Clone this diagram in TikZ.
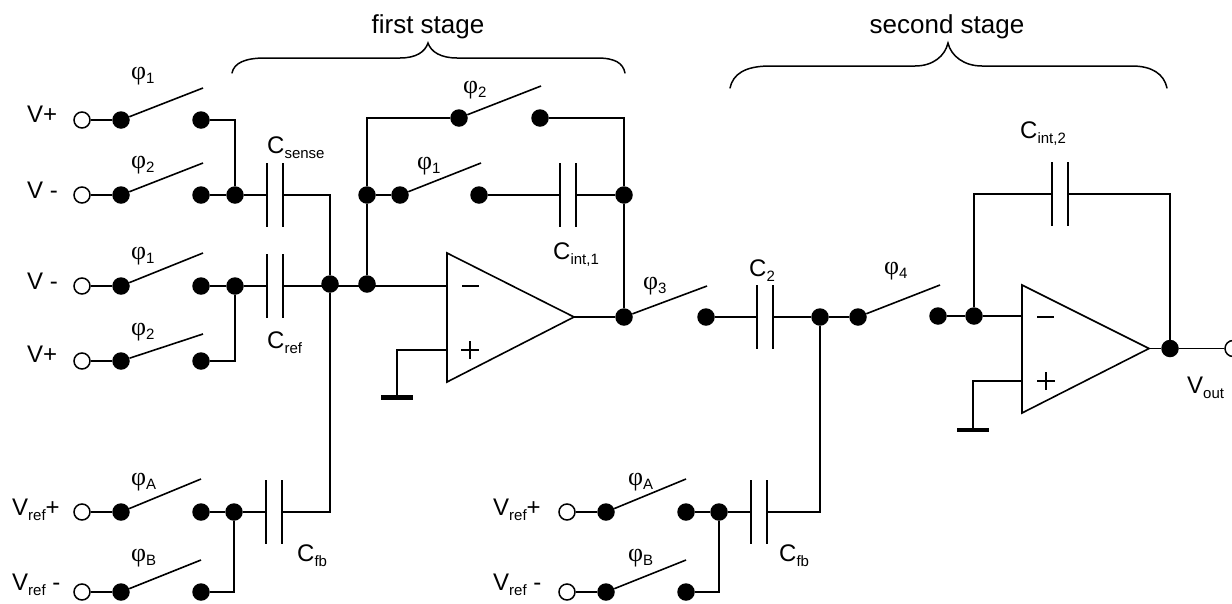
\documentclass[tikz,border=0pt]{standalone}
\usepackage{fontspec}
\setmainfont{Liberation Sans}
\newfontfamily\phifont{Liberation Serif}
\newcommand{\bigf}{\fontsize{24}{26}\selectfont}
\newcommand{\subt}[1]{\raisebox{-5pt}{\fontsize{15}{16}\selectfont #1}}
\newcommand{\phs}[1]{{\phifont\fontsize{26}{28}\selectfont φ}\raisebox{-4pt}{\fontsize{15}{16}\selectfont #1}}
\tikzset{
  wire/.style={line width=1.6pt,line join=miter},
  dotn/.style={circle,fill=black,minimum size=17.5pt,inner sep=0pt},
  opn/.style={circle,draw=black,fill=white,line width=1.5pt,minimum size=16pt,inner sep=0pt},
  plate/.style={rectangle,fill=black,minimum width=1.7pt,minimum height=64pt,inner sep=0pt},
  gnd/.style={rectangle,fill=black,minimum width=32pt,minimum height=4.5pt,inner sep=0pt},
  lab/.style={anchor=base west,inner sep=0pt,font=\bigf},
  stagelab/.style={anchor=base,inner sep=0pt,font=\fontsize{26}{28}\selectfont},
  brace/.style={line width=1.5pt,line cap=round},
}
\begin{document}
\begin{tikzpicture}[x=1pt,y=-1pt]
\useasboundingbox (0,0) rectangle (1232,603);
% ---------- left switches
\node[opn] (o1) at (82,120) {};  \node[dotn] (a1) at (121,120) {}; \node[dotn] (b1) at (201,120) {}; \coordinate (e1) at (203,88);
\node[opn] (o2) at (82,195) {};  \node[dotn] (a2) at (121,195) {}; \node[dotn] (b2) at (201,195) {}; \coordinate (e2) at (203,163);
\node[opn] (o3) at (82,286) {};  \node[dotn] (a3) at (121,286) {}; \node[dotn] (b3) at (201,286) {}; \coordinate (e3) at (203,253);
\node[opn] (o4) at (82,361) {};  \node[dotn] (a4) at (121,361) {}; \node[dotn] (b4) at (201,361) {}; \coordinate (e4) at (203,334);
\node[opn] (o5) at (82,512) {};  \node[dotn] (a5) at (121,512) {}; \node[dotn] (b5) at (201,512) {}; \coordinate (e5) at (201,479);
\node[opn] (o6) at (82,592) {};  \node[dotn] (a6) at (121,592) {}; \node[dotn] (b6) at (201,592) {}; \coordinate (e6) at (201,560);
\foreach \i in {1,...,6}{\draw[wire] (o\i)--(a\i); \draw[wire] (a\i)--(e\i);}
% junctions and capacitors, first stage
\node[dotn] (j2) at (235,195) {}; \node[dotn] (j3) at (235,286) {}; \node[dotn] (j5) at (234,512) {};
\node[plate] (cs1) at (267,195) {}; \node[plate] (cs2) at (283,195) {};
\node[plate] (cr1) at (267,286) {}; \node[plate] (cr2) at (283,286) {};
\node[plate] (cf1) at (266,512) {}; \node[plate] (cf2) at (282,512) {};
\node[dotn] (m1) at (330,284) {}; \node[dotn] (m2) at (367,284) {};
\draw[wire] (b1) -| (j2);
\draw[wire] (b2)--(j2)--(cs1);
\draw[wire] (b3)--(j3)--(cr1);
\draw[wire] (b4) -| (j3);
\draw[wire] (b5)--(j5)--(cf1);
\draw[wire] (b6) -| (j5);
\draw[wire] (cs2) -| (m1);
\draw[wire] (m1) |- (cf2);
% integrator 1
\node[dotn] (f1) at (367,195) {}; \node[dotn] (s1a) at (400,195) {}; \node[dotn] (s1b) at (479,195) {}; \coordinate (s1e) at (481,163);
\node[dotn] (s2a) at (459,118) {}; \node[dotn] (s2b) at (540,118) {}; \coordinate (s2e) at (541,86);
\node[plate] (ci1) at (560,195) {}; \node[plate] (ci2) at (576,195) {};
\node[dotn] (f2) at (624,195) {}; \node[dotn] (out1) at (624,317) {};
\coordinate (op1m) at (447,286); \coordinate (op1p) at (447,350); \coordinate (op1t) at (574,317);
\draw[wire] (447,253)--(op1t)--(447,382)--cycle;
\draw[wire] (cr2)--(op1m);
\draw[wire] (m2)--(f1);
\draw[wire] (f1) |- (s2a);
\draw[wire] (s2b) -| (f2);
\draw[wire] (f1)--(s1a);
\draw[wire] (s1a)--(s1e);
\draw[wire] (s2a)--(s2e);
\draw[wire] (s1b)--(ci1);
\draw[wire] (ci2)--(f2);
\draw[wire] (f2)--(out1);
\draw[wire] (op1t)--(out1);
\node[gnd] (g1) at (397,397.5) {};
\draw[wire] (op1p) -| (g1);
\draw[wire] (462,286)--(479,286);
\draw[wire] (461,350)--(479,350);
\draw[wire] (470,341)--(470,359);
% link to second stage
\coordinate (s3e) at (707,286);
\node[dotn] (s3b) at (706,317) {}; \node[plate] (c21) at (757,317) {}; \node[plate] (c22) at (773,317) {};
\node[dotn] (n1) at (820,317) {}; \node[dotn] (s4a) at (858,317) {}; \coordinate (s4e) at (940,285);
\node[dotn] (s4b) at (938,316) {}; \node[dotn] (n2) at (974,316) {};
\draw[wire] (out1)--(s3e);
\draw[wire] (s3b)--(c21);
\draw[wire] (c22)--(n1)--(s4a);
\draw[wire] (s4a)--(s4e);
\draw[wire] (s4b)--(n2);
% integrator 2
\coordinate (op2m) at (1022,316); \coordinate (op2p) at (1022,381); \coordinate (op2t) at (1149,348.5);
\draw[wire] (1022,285)--(op2t)--(1022,413)--cycle;
\draw[wire] (n2)--(op2m);
\node[gnd] (g2) at (973,430) {};
\draw[wire] (op2p) -| (g2);
\draw[wire] (1037,317)--(1054,317);
\draw[wire] (1037,381)--(1055,381);
\draw[wire] (1046,372)--(1046,390);
\node[plate] (cj1) at (1052,194) {}; \node[plate] (cj2) at (1068,194) {};
\node[dotn] (out2) at (1170,348.5) {};
\node[opn] (oo) at (1233,348.5) {};
\draw[wire] (n2) |- (cj1);
\draw[wire] (cj2) -| (out2);
\draw[wire] (op2t)--(out2);
\draw[wire] (out2)--(oo);
% lower switches second stage
\node[opn] (p5) at (567,512) {}; \node[dotn] (q5) at (606,512) {}; \node[dotn] (r5) at (686,512) {}; \coordinate (t5) at (686,479);
\node[opn] (p6) at (567,592) {}; \node[dotn] (q6) at (606,592) {}; \node[dotn] (r6) at (686,592) {}; \coordinate (t6) at (686,560);
\node[dotn] (k5) at (719,512) {};
\node[plate] (cg1) at (751,512) {}; \node[plate] (cg2) at (767,512) {};
\draw[wire] (p5)--(q5); \draw[wire] (q5)--(t5);
\draw[wire] (p6)--(q6); \draw[wire] (q6)--(t6);
\draw[wire] (r5)--(k5)--(cg1);
\draw[wire] (r6) -| (k5);
\draw[wire] (n1) |- (cg2);
% braces
\draw[brace] (232,73) .. controls (234,63) and (245,58) .. (265,58) -- (400,58) .. controls (416,58) and (425,52) .. (428,43) .. controls (431,52) and (441,58) .. (457,58) -- (597,58) .. controls (615,58) and (623,63) .. (625,73);
\draw[brace] (730,88) .. controls (733,74) and (745,66) .. (770,66) -- (915,66) .. controls (933,66) and (945,56) .. (948,43) .. controls (951,56) and (964,66) .. (982,66) -- (1132,66) .. controls (1152,66) and (1164,74) .. (1167,88);
% labels
\node[stagelab] (st1) at (428,33) {first stage};
\node[stagelab] (st2) at (947,33) {second stage};
\node[lab] (l1) at (27,122) {V+};
\node[lab] (l2) at (27,198) {V -};
\node[lab] (l3) at (27,289) {V -};
\node[lab] (l4) at (27,362) {V+};
\node[lab] (l5) at (12,515) {V\subt{ref}+};
\node[lab] (l6) at (12,590) {V\subt{ref} -};
\node[lab] (l7) at (493,515) {V\subt{ref}+};
\node[lab] (l8) at (493,590) {V\subt{ref} -};
\node[lab] (pa) at (131,79) {\phs{1}};
\node[lab] (pb) at (131,168) {\phs{2}};
\node[lab] (pc) at (131,259) {\phs{1}};
\node[lab] (pd) at (131,335) {\phs{2}};
\node[lab] (pe) at (131,485) {\phs{A}};
\node[lab] (pf) at (131,561) {\phs{B}};
\node[lab] (pg) at (628,485) {\phs{A}};
\node[lab] (ph) at (628,561) {\phs{B}};
\node[lab] (pi) at (417,169) {\phs{1}};
\node[lab] (pj) at (463,93) {\phs{2}};
\node[lab] (pk) at (643,289) {\phs{3}};
\node[lab] (pl) at (884,274) {\phs{4}};
\node[lab] (c1) at (267,153) {C\subt{sense}};
\node[lab] (c2) at (267,348) {C\subt{ref}};
\node[lab] (c3) at (553,259) {C\subt{int,1}};
\node[lab] (c4) at (297,561) {C\subt{fb}};
\node[lab] (c5) at (779,561) {C\subt{fb}};
\node[lab] (c6) at (749,276) {C\subt{2}};
\node[lab] (c7) at (1020,138) {C\subt{int,2}};
\node[lab] (c8) at (1187,393) {V\subt{out}};
\end{tikzpicture}
\end{document}
